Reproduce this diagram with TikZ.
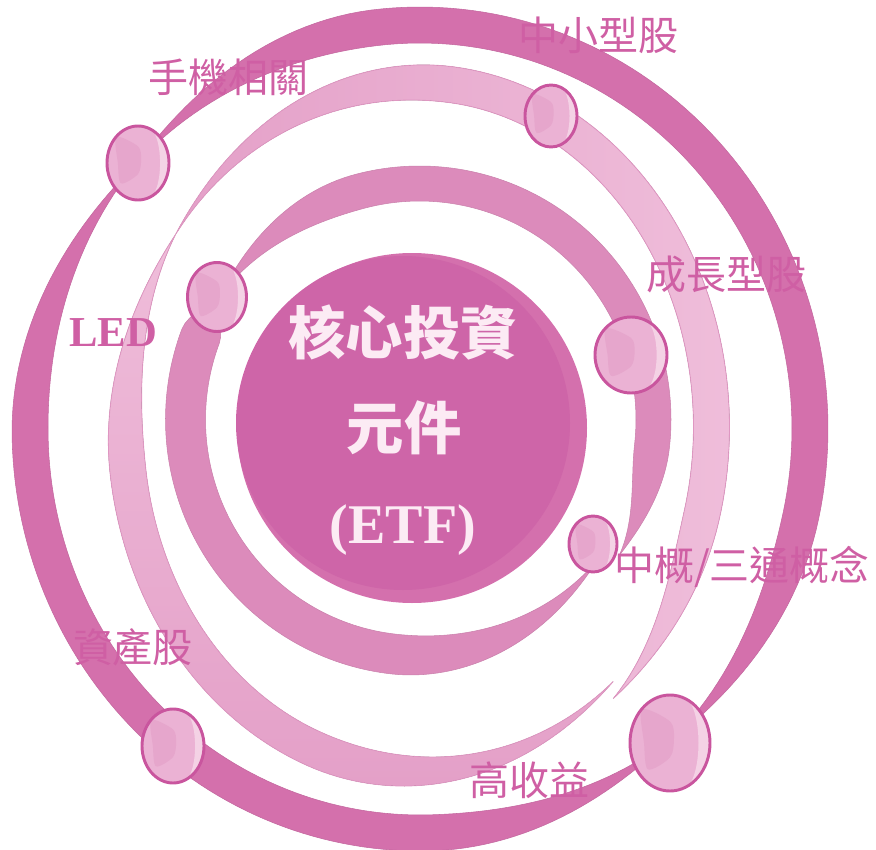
\documentclass[tikz,border=0pt]{standalone}
\usepackage{fontspec}
\usepackage{xcolor}
\setmainfont{Liberation Serif}
\newfontfamily\cjkfont{Noto Sans CJK TC}
\usetikzlibrary{shapes.geometric,calc}

\definecolor{ringdark}{HTML}{D470AC}
\definecolor{ringmid}{HTML}{DC8BBB}
\definecolor{ringlight}{HTML}{EFBDDA}
\definecolor{ringlightdeep}{HTML}{E4A0C8}
\definecolor{ringlightedge}{HTML}{DF97C2}
\definecolor{corelight}{HTML}{D470AD}
\definecolor{coredark}{HTML}{CE65A8}
\definecolor{planetfill}{HTML}{EBB2D4}
\definecolor{planetedge}{HTML}{C9559E}
\definecolor{planethi}{HTML}{F4D2E5}
\definecolor{planetblob}{HTML}{E6A6CC}
\definecolor{labelpink}{HTML}{CF5FA4}
\definecolor{coretext}{HTML}{FCEBF4}

\newcommand{\orbitband}[8]{%
  \fill[#1] plot[domain=0:1,samples=120,variable=\t]
    ({\cx+(\ra+boff(\t,#5,#6,#7,#8)+0.5*#4*bwid(\t,#5,#6))*cos(#2+(#3-#2)*\t)},
     {\cy+(\rb+boff(\t,#5,#6,#7,#8)+0.5*#4*bwid(\t,#5,#6))*sin(#2+(#3-#2)*\t)})
    -- plot[domain=1:0,samples=120,variable=\t]
    ({\cx+(\ra+boff(\t,#5,#6,#7,#8)-0.5*#4*bwid(\t,#5,#6))*cos(#2+(#3-#2)*\t)},
     {\cy+(\rb+boff(\t,#5,#6,#7,#8)-0.5*#4*bwid(\t,#5,#6))*sin(#2+(#3-#2)*\t)})
    -- cycle;}

\tikzset{
  bandthree/.style={fill=ringdark,draw=ringdark!92!black,line width=0.4pt},
  bandtwoa/.style={left color=ringlightdeep,right color=ringlight,draw=ringlightedge,line width=0.6pt},
  bandtwob/.style={top color=ringlight,bottom color=ringlightdeep,draw=ringlightedge,line width=0.6pt},
  bandone/.style={fill=ringmid,draw=ringmid!92!black,line width=0.4pt},
  planet/.style={ellipse,draw=planetedge,line width=2.2pt,fill=planetfill,inner sep=0pt,
    path picture={
      \fill[planetblob] plot[smooth cycle] coordinates {
        ($(path picture bounding box.center)!0.7!(path picture bounding box.north west)$)
        ($(path picture bounding box.center)!0.45!(path picture bounding box.north)$)
        ($(path picture bounding box.center)!0.1!(path picture bounding box.north east)$)
        ($(path picture bounding box.center)!0.3!(path picture bounding box.south)$)
        ($(path picture bounding box.center)!0.55!(path picture bounding box.south west)$)
        ($(path picture bounding box.center)!0.65!(path picture bounding box.west)$)};
      \fill[planethi] ($(path picture bounding box.north)!0.3!(path picture bounding box.north east)$)
        .. controls ($(path picture bounding box.center)!0.85!(path picture bounding box.north east)$)
        and ($(path picture bounding box.center)!0.85!(path picture bounding box.south east)$)
        .. ($(path picture bounding box.south)!0.3!(path picture bounding box.south east)$)
        -- (path picture bounding box.south east) -- (path picture bounding box.north east) -- cycle;
    }},
  tag/.style={font=\cjkfont\fontsize{30pt}{32pt}\selectfont,text=labelpink,inner sep=0pt},
  tagserif/.style={font=\bfseries\fontsize{32pt}{34pt}\selectfont,text=labelpink,inner sep=0pt},
  coretag/.style={font=\cjkfont\bfseries\fontsize{43pt}{45pt}\selectfont,text=coretext,inner sep=0pt},
  coreserif/.style={font=\bfseries\fontsize{42pt}{44pt}\selectfont,text=coretext,inner sep=0pt},
}

\begin{document}
\begin{tikzpicture}[x=0.75pt,y=0.75pt,yscale=-1,xscale=1,
  declare function={sm(\xx)=0.5*\xx*\xx*(3-2*\xx)+0.5*sin(90*\xx);
    bwid(\ta,\fa,\fb)=sm(min(1,\ta/\fa))*sm(min(1,(1-\ta)/\fb));
    boff(\ta,\fa,\fb,\oa,\ob)=\oa*(1-sm(min(1,\ta/\fa)))+\ob*(1-sm(min(1,(1-\ta)/\fb)));}]
\useasboundingbox (0,0) rectangle (876,850);

\def\cx{420}\def\cy{429}\def\ra{390}\def\rb{404}
\orbitband{bandthree}{222}{410.5}{36}{0.22}{0.2}{-8}{2}
\orbitband{bandthree}{50.5}{222}{36}{0.22}{0.25}{0}{-8}

\def\cx{418.5}\def\cy{427}\def\ra{293}\def\rb{344.5}
\orbitband{bandtwoa}{214}{410}{36}{0.32}{0.18}{0}{10}
\orbitband{bandtwob}{48}{214}{36}{0.38}{0.25}{-2}{0}

\def\cx{419.5}\def\cy{419.5}\def\ra{234}\def\rb{236}
\orbitband{bandone}{211}{394}{35}{0.24}{0.15}{0}{7}
\orbitband{bandone}{38}{211}{40}{0.34}{0.06}{-8}{0}

\fill[corelight] (412,428) circle (175);
\fill[coredark] (403,423) circle (167);

\node[planet,minimum width=46.5pt,minimum height=55.5pt] (phone) at (138,163) {};
\node[planet,minimum width=39pt,minimum height=46.5pt] (smallcap) at (551,116) {};
\node[planet,minimum width=44.25pt,minimum height=51.75pt] (led) at (217,297) {};
\node[planet,minimum width=54pt,minimum height=57pt] (growth) at (631,355) {};
\node[planet,minimum width=36pt,minimum height=42pt] (china) at (593,544) {};
\node[planet,minimum width=46.5pt,minimum height=55.5pt] (asset) at (173,746) {};
\node[planet,minimum width=60pt,minimum height=72pt] (yield) at (670,743) {};

\node[tag] (phonetag) at (228,77) {手機相關};
\node[tag] (smallcaptag) at (598,35) {中小型股};
\node[tag] (growthtag) at (726,274) {成長型股};
\node[tagserif] (ledtag) at (113,333) {LED};
\node[tag] (chinatag) at (742,567) {中概/三通概念};
\node[tag] (assettag) at (133,647) {資產股};
\node[tag] (yieldtag) at (529,780) {高收益};

\node[coretag] (coreone) at (403,332) {核心投資};
\node[coretag] (coretwo) at (404,428) {元件};
\node[coreserif] (corethree) at (403,530) {(ETF)};
\end{tikzpicture}
\end{document}
